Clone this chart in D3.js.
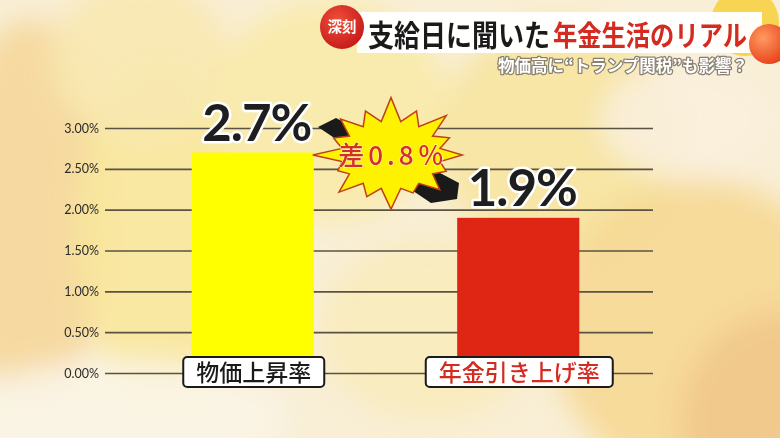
<!DOCTYPE html>
<html><head><meta charset="utf-8">
<script src="https://cdn.jsdelivr.net/npm/d3@7"></script>
<style>html,body{margin:0;padding:0;background:#f9efd6;}svg{display:block;}</style>
</head><body><svg id="c" width="780" height="438"></svg>
<script>
const categories = ["物価上昇率", "年金引き上げ率"];
const values = [2.7, 1.9];
const valueLabels = ["2.7%", "1.9%"];
const barColors = ["#ffff00", "#df2513"];
const catTextColors = ["#1a1a1a", "#d42a20"];
const yTicks = [0, 0.5, 1, 1.5, 2, 2.5, 3];
const diffLabel = "差0.8％";
const badge = "深刻";
const titleBlack = "支給日に聞いた";
const titleRed = "年金生活のリアル";
const subtitle = "物価高に“トランプ関税”も影響？";

const svg = d3.select("#c");
const defs = svg.append("defs");
defs.append("filter").attr("id","blur").attr("x","-50%").attr("y","-50%").attr("width","200%").attr("height","200%")
  .append("feGaussianBlur").attr("stdDeviation", 14);
const rg = defs.append("radialGradient").attr("id","ball").attr("cx","35%").attr("cy","35%").attr("r","70%");
rg.append("stop").attr("offset","0%").attr("stop-color","#ff9a60");
rg.append("stop").attr("offset","100%").attr("stop-color","#e8401a");
const rg2 = defs.append("radialGradient").attr("id","badge").attr("cx","40%").attr("cy","35%").attr("r","70%");
rg2.append("stop").attr("offset","0%").attr("stop-color","#f0503a");
rg2.append("stop").attr("offset","100%").attr("stop-color","#c4181a");

// background
const bg = svg.append("g");
bg.append("rect").attr("width",780).attr("height",438).attr("fill","#f9efd6");
const blobs = bg.append("g").attr("filter","url(#blur)");
[
 [30,210,80,190,"#f5d69a"],
 [160,230,85,170,"#f8e79c"],
 [140,60,90,80,"#f8e8b0"],
 [330,110,120,110,"#f8eaa8"],
 [560,140,120,120,"#f6e4a0"],
 [430,330,110,90,"#f8ebbb"],
 [700,330,150,150,"#f6d894"],
 [790,420,110,110,"#f1c88c"],
 [120,420,170,60,"#faf4e6"],
 [690,120,90,60,"#faf0dc"]
].forEach(d=>blobs.append("ellipse").attr("cx",d[0]).attr("cy",d[1]).attr("rx",d[2]).attr("ry",d[3]).attr("fill",d[4]).attr("opacity",0.9));
bg.append("circle").attr("cx",745).attr("cy",22).attr("r",34).attr("fill","#f7cf3a").attr("opacity",0.85);

// scales
const x = d3.scaleBand().domain(categories).range([120,651]).paddingInner(0.54).paddingOuter(0.27);
const y = d3.scaleLinear().domain([0,3]).range([373,128]);

// grid + axis
const axis = d3.axisLeft(y).tickValues(yTicks).tickFormat(d=>d3.format(".2f")(d)+"%").tickSize(-548).tickPadding(6);
const ag = svg.append("g").attr("transform","translate(105,0)").call(axis);
ag.select(".domain").remove();
ag.selectAll(".tick line").attr("stroke","#5a5242").attr("stroke-width",1.6);
ag.selectAll(".tick text").attr("font-family","Lato, 'Noto Sans', sans-serif").attr("font-size",12.5).attr("fill","#2a2a2a");

// bars
svg.append("g").selectAll("rect").data(categories).join("rect")
  .attr("x",d=>x(d)).attr("width",x.bandwidth())
  .attr("y",(d,i)=>y(values[i])).attr("height",(d,i)=>y(0)-y(values[i]))
  .attr("fill",(d,i)=>barColors[i]);

// connector shadow + starburst
const sx = 391, sy = 155;
svg.append("path").attr("d",`M${sx-73},${sy-28} L${sx-55},${sy-37} L${sx+68},${sy+28} L${sx+66},${sy+44} L${sx+40},${sy+48} Z`).attr("fill","#1a1a1a");
const outer = [70,58,68,55,62,52,60,50,66,55,64,50,68,54,62,58];
const ptsN = outer.length;
let pts = [];
for (let i=0;i<ptsN;i++){
  const a0 = -Math.PI/2 + i*2*Math.PI/ptsN;
  const a1 = a0 + Math.PI/ptsN;
  pts.push([sx+Math.cos(a0)*outer[i]*1.15, sy+Math.sin(a0)*outer[i]*0.82]);
  pts.push([sx+Math.cos(a1)*50, sy+Math.sin(a1)*34]);
}
svg.append("path").attr("d","M"+pts.map(p=>p.join(",")).join("L")+"Z")
  .attr("fill","#fff200").attr("stroke","#c0401a").attr("stroke-width",1.5).attr("stroke-linejoin","miter");
svg.append("text").attr("x",sx+2).attr("y",sy+10).attr("text-anchor","middle")
  .attr("font-family","'Noto Sans CJK JP', sans-serif").attr("font-weight",500).attr("font-size",26)
  .attr("letter-spacing",4).attr("fill","#d3302a").attr("stroke","#fff8c0").attr("stroke-width",1).attr("paint-order","stroke")
  .text(diffLabel);

// value labels
svg.append("g").selectAll("text").data(categories).join("text")
  .attr("x",d=>x(d)+x.bandwidth()/2+4).attr("y",(d,i)=>y(values[i])-12)
  .attr("text-anchor","middle").attr("font-family","Lato, sans-serif").attr("font-weight",700).attr("font-size",51)
  .attr("letter-spacing",-1)
  .attr("fill","#1e1e1e").attr("stroke","#ffffff").attr("stroke-width",5).attr("paint-order","stroke").attr("stroke-linejoin","round")
  .text((d,i)=>valueLabels[i]);

// category label boxes
const cg = svg.append("g").selectAll("g").data(categories).join("g");
cg.each(function(d,i){
  const g = d3.select(this);
  const cx = x(d)+x.bandwidth()/2+1;
  const t = g.append("text").attr("x",cx).attr("y",381).attr("text-anchor","middle")
    .attr("font-family","'Noto Sans CJK JP', sans-serif").attr("font-weight",500).attr("font-size",23)
    .attr("fill",catTextColors[i]).text(d);
  const bb = t.node().getBBox();
  g.insert("rect","text").attr("x",bb.x-13).attr("y",357).attr("width",bb.width+26).attr("height",30)
    .attr("rx",4).attr("fill","#ffffff").attr("stroke","#1a1a1a").attr("stroke-width",2);
});

// title banner
svg.append("rect").attr("x",357).attr("y",12).attr("width",405).attr("height",41).attr("fill","#ffffff").attr("opacity",0.97);
svg.append("circle").attr("cx",769).attr("cy",44).attr("r",20).attr("fill","url(#ball)");
svg.append("circle").attr("cx",342).attr("cy",27).attr("r",22).attr("fill","url(#badge)");
svg.append("text").attr("x",342).attr("y",32).attr("text-anchor","middle")
  .attr("font-family","'Noto Sans CJK JP', sans-serif").attr("font-weight",700).attr("font-size",14.5)
  .attr("fill","#ffffff").text(badge);
svg.append("text").attr("transform","translate(368,46) scale(1,1.15)")
  .attr("font-family","'Noto Sans CJK JP', sans-serif").attr("font-weight",700).attr("font-size",26)
  .attr("textLength",182).attr("lengthAdjust","spacingAndGlyphs").attr("fill","#1a1a1a").text(titleBlack);
svg.append("text").attr("transform","translate(553,46) scale(1,1.15)")
  .attr("font-family","'Noto Sans CJK JP', sans-serif").attr("font-weight",700).attr("font-size",25)
  .attr("textLength",194).attr("lengthAdjust","spacingAndGlyphs").attr("fill","#d42a20").text(titleRed);
svg.append("text").attr("x",498).attr("y",72).attr("font-family","'Noto Sans CJK JP', sans-serif")
  .attr("font-weight",700).attr("font-size",16.5).attr("textLength",250).attr("lengthAdjust","spacingAndGlyphs")
  .attr("fill","#ffffff").attr("stroke","#8a8070").attr("stroke-width",2.5).attr("paint-order","stroke").attr("stroke-linejoin","round")
  .text(subtitle);
</script></body></html>
